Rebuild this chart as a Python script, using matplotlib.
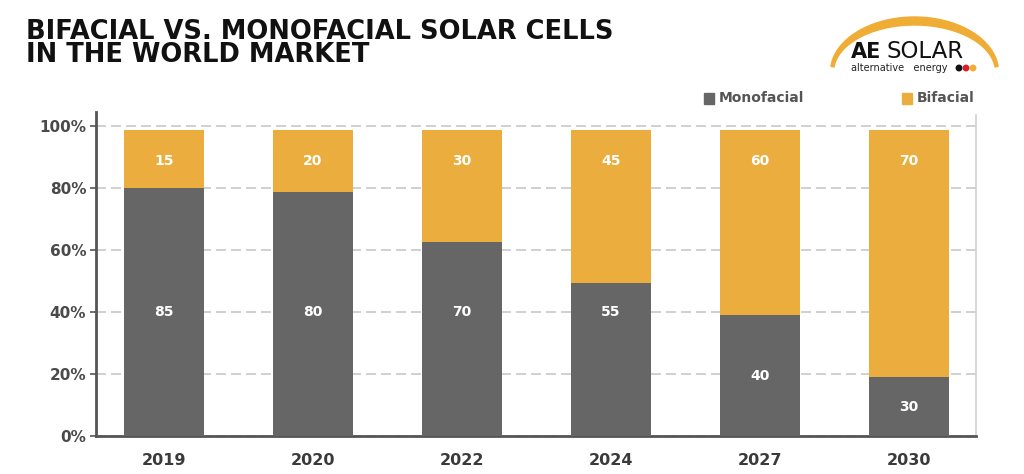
import matplotlib
matplotlib.use("Agg")
import matplotlib.pyplot as plt
import numpy as np
from matplotlib.patches import Rectangle, Polygon, Ellipse

years = ["2019", "2020", "2022", "2024", "2027", "2030"]
mono_height = [79.9, 78.7, 62.6, 49.2, 38.9, 19.0]
total_height = [98.6, 98.6, 98.6, 98.6, 98.6, 98.6]
mono_labels = ["85", "80", "70", "55", "40", "30"]
bi_labels = ["15", "20", "30", "45", "60", "70"]
yticks = [0, 20, 40, 60, 80, 100]
ytick_labels = ["0%", "20%", "40%", "60%", "80%", "100%"]

GRAY = "#666666"
ORANGE = "#ebae3e"

fig = plt.figure(figsize=(10.24, 4.74), dpi=100)
W, H = 1024, 474
ax = fig.add_axes([96 / W, 1 - 436 / H, (976 - 96) / W, (436 - 112) / H])

x = np.arange(len(years))
bi_height = [t - m for t, m in zip(total_height, mono_height)]
ax.bar(x, mono_height, width=0.537, color=GRAY, zorder=3)
ax.bar(x, bi_height, bottom=mono_height, width=0.537, color=ORANGE, zorder=3)

for xi, m, t, ml, bl in zip(x, mono_height, total_height, mono_labels, bi_labels):
    my = 40 if m > 45 else m / 2
    ax.text(xi, my, ml, ha="center", va="center", color="white",
            fontsize=10, fontweight="bold", zorder=4)
    ax.text(xi, t - 9.8, bl, ha="center", va="center", color="white",
            fontsize=10, fontweight="bold", zorder=4)

ax.set_xlim(-0.456, 5.45)
ax.set_ylim(0, 104.5)
ax.set_yticks(yticks)
ax.set_yticklabels(ytick_labels)
ax.set_xticks(x)
ax.set_xticklabels(years)
for lab in ax.get_yticklabels():
    lab.set_fontsize(11)
    lab.set_fontweight("bold")
    lab.set_color("#4a4a4a")
for lab in ax.get_xticklabels():
    lab.set_fontsize(11.5)
    lab.set_fontweight("bold")
    lab.set_color("#3a3a3a")
ax.tick_params(axis="x", length=0, pad=12)
ax.tick_params(axis="y", length=4, width=1.2, color="#555555", pad=3)

ax.grid(axis="y", color="#c8c8c8", linestyle=(0, (6, 3)), linewidth=1.2, zorder=0)
ax.set_axisbelow(True)
ax.spines["top"].set_visible(False)
ax.spines["left"].set_color("#555555")
ax.spines["left"].set_linewidth(2)
ax.spines["bottom"].set_color("#555555")
ax.spines["bottom"].set_linewidth(2)
ax.spines["right"].set_color("#d0d0d0")
ax.spines["right"].set_linewidth(1.2)
ax.spines["right"].set_bounds(0, 103.5)

# Title (two lines in one text)
fig.text(26 / W, 1 - 62 / H, "BIFACIAL VS. MONOFACIAL SOLAR CELLS\nIN THE WORLD MARKET",
         fontsize=18.5, fontweight="heavy", color="#111111", va="baseline",
         ha="left", linespacing=0.86)

# Legend
fig.patches.append(Rectangle((704 / W, 1 - 104 / H), 10 / W, 11 / H,
                             transform=fig.transFigure, color=GRAY))
fig.text(719 / W, 1 - 98.5 / H, "Monofacial", fontsize=10, fontweight="bold",
         color="#555555", va="center", ha="left")
fig.patches.append(Rectangle((902 / W, 1 - 104 / H), 10 / W, 11 / H,
                             transform=fig.transFigure, color=ORANGE))
fig.text(917 / W, 1 - 98.5 / H, "Bifacial", fontsize=10, fontweight="bold",
         color="#555555", va="center", ha="left")

# Logo: arc crescent
cx, cy = 914.5, 72
t = np.linspace(np.radians(6), np.radians(174), 100)
outer = np.column_stack([cx + 84 * np.cos(t), cy - 55 * np.sin(t)])
inner = np.column_stack([cx + 81 * np.cos(t[::-1]), cy - 47 * np.sin(t[::-1])])
pts = np.vstack([outer, inner])
pts_fig = np.column_stack([pts[:, 0] / W, 1 - pts[:, 1] / H])
fig.patches.append(Polygon(pts_fig, closed=True, transform=fig.transFigure,
                           color="#f0ad35"))
fig.text(851 / W, 1 - 58 / H, "AE", fontsize=15, fontweight="heavy",
         color="#111111", va="baseline", ha="left")
fig.text(886 / W, 1 - 58 / H, "SOLAR", fontsize=16.5, fontweight="normal",
         color="#111111", va="baseline", ha="left")
fig.text(851 / W, 1 - 71 / H, "alternative   energy", fontsize=7,
         color="#222222", va="baseline", ha="left")
for i, c in enumerate(["#111111", "#d8202a", "#f0ad35"]):
    fig.patches.append(Ellipse(((959 + i * 7) / W, 1 - 68 / H), 5.5 / W, 5.5 / H,
                               transform=fig.transFigure, color=c))

fig.savefig("out.png", dpi=100, facecolor="white")
